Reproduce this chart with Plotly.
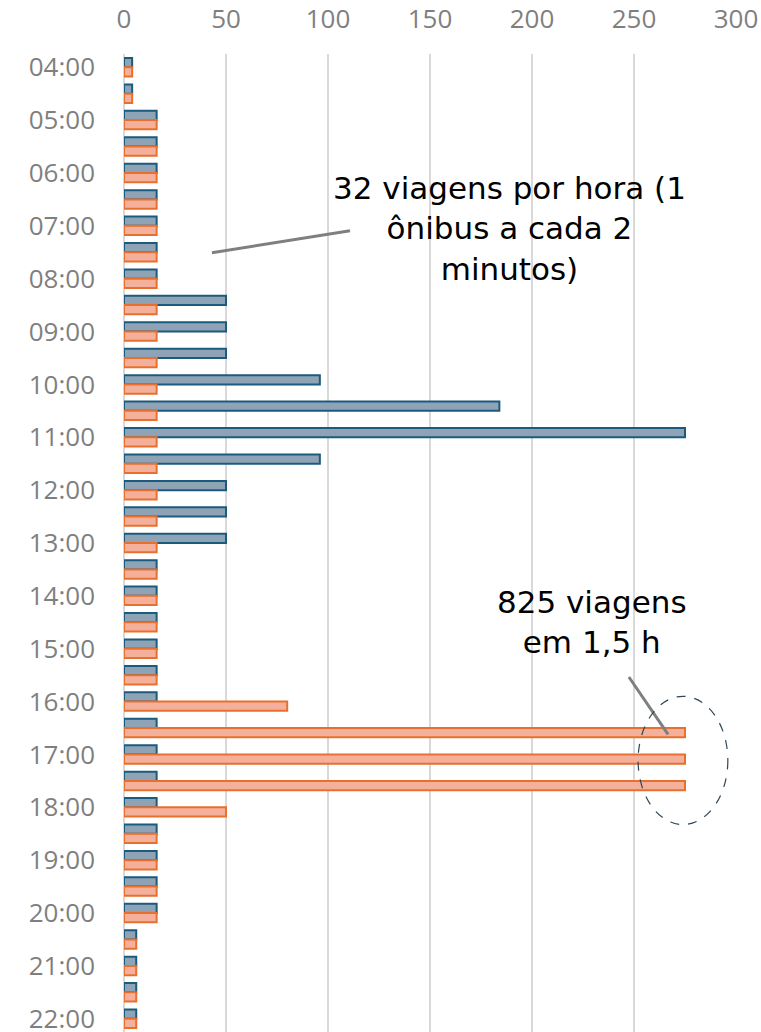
import plotly.graph_objects as go

times = ["04:00","04:30","05:00","05:30","06:00","06:30","07:00","07:30","08:00","08:30",
         "09:00","09:30","10:00","10:30","11:00","11:30","12:00","12:30","13:00","13:30",
         "14:00","14:30","15:00","15:30","16:00","16:30","17:00","17:30","18:00","18:30",
         "19:00","19:30","20:00","20:30","21:00","21:30","22:00"]
serie_a = [4,4,16,16,16,16,16,16,16,50,
           50,50,96,184,275,96,50,50,50,16,
           16,16,16,16,16,16,16,16,16,16,
           16,16,16,6,6,6,6]
serie_b = [4,4,16,16,16,16,16,16,16,16,
           16,16,16,16,16,16,16,16,16,16,
           16,16,16,16,80,275,275,275,50,16,
           16,16,16,6,6,6,6]
hour_ticks = [t for t in times if t.endswith(":00")]
x_ticks = [0, 50, 100, 150, 200, 250, 300]

FONT = "Open Sans"
NOTE_FONT = "DejaVu Sans"

fig = go.Figure()
fig.add_trace(go.Bar(y=times, x=serie_a, orientation="h", name="A",
                     marker=dict(color="#8fa3b6", line=dict(color="#1b5b7e", width=2))))
fig.add_trace(go.Bar(y=times, x=serie_b, orientation="h", name="B",
                     marker=dict(color="#f4b09b", line=dict(color="#e8702f", width=2))))

fig.update_layout(
    width=761, height=1032,
    margin=dict(l=124, r=25, t=54, b=0, autoexpand=False),
    paper_bgcolor="white", plot_bgcolor="white",
    barmode="group", bargap=0.3, bargroupgap=0.0,
    showlegend=False,
    font=dict(family=FONT, size=26, color="#7f7f7f"),
)
fig.update_xaxes(side="top", range=[0, 300], tickvals=x_ticks, automargin=False,
                 showgrid=True, gridcolor="#d9d9d9", gridwidth=1.5,
                 zeroline=True, zerolinecolor="#d9d9d9", zerolinewidth=1.5,
                 showline=False, ticks="", ticklabelstandoff=20,
                 tickfont=dict(family=FONT, size=26, color="#7f7f7f"))
fig.update_yaxes(type="category", categoryorder="array", categoryarray=times,
                 range=[36.5, -0.5], tickvals=hour_ticks, ticktext=hour_ticks,
                 automargin=False,
                 showgrid=False, showline=False, ticks="", ticklabelstandoff=28,
                 tickfont=dict(family=FONT, size=26, color="#7f7f7f"))

fig.add_annotation(x=189, y=6.1, xref="x", yref="y",
                   text="32 viagens por hora (1<br>ônibus a cada 2<br>minutos)",
                   showarrow=False, align="center",
                   font=dict(family=NOTE_FONT, size=31, color="black"))
fig.add_shape(type="line", xref="x", yref="y", x0=43.1, y0=7.02, x1=110.8, y1=6.19,
              line=dict(color="#7f7f7f", width=3))

fig.add_annotation(x=229.4, y=21.0, xref="x", yref="y",
                   text="825 viagens<br>em 1,5 h",
                   showarrow=False, align="center",
                   font=dict(family=NOTE_FONT, size=31, color="black"))
fig.add_shape(type="line", xref="x", yref="y", x0=247.5, y0=23.07, x1=266.7, y1=25.24,
              line=dict(color="#7f7f7f", width=3))
fig.add_shape(type="circle", xref="x", yref="y", x0=252, x1=296, y0=23.8, y1=28.65,
              line=dict(color="#2e4656", width=1.2, dash="dash"))

fig.write_html("out.html", config={"displayModeBar": False},
               post_script="document.body.style.margin='0px';document.body.style.overflow='hidden';")
